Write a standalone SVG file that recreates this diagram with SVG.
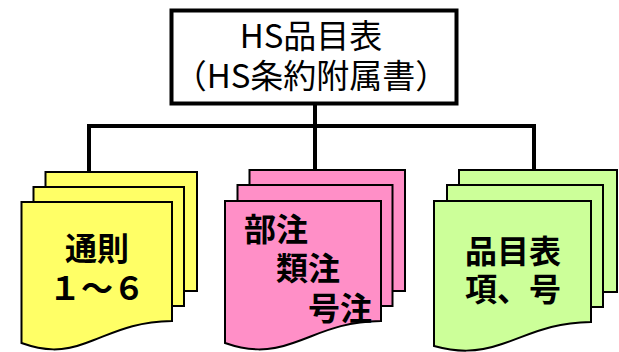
<svg xmlns="http://www.w3.org/2000/svg" width="619" height="352" viewBox="0 0 619 352">
<style>
.sheet{stroke:#000;stroke-width:2}
.y{fill:#ffff66}.p{fill:#ff8fc7}.g{fill:#ccff99}
.t{font-family:"Noto Sans CJK JP","Noto Sans",sans-serif;font-size:33px;fill:#000}
.b{font-family:"Noto Sans CJK JP","Noto Sans",sans-serif;font-size:32px;font-weight:700;fill:#000}
.c{fill:none;stroke:#000;stroke-width:4}
</style>
<rect width="619" height="352" fill="#fff"/>
<g id="connectors">
<path class="c" d="M315 104V171M89 172V126H534V172"/>
</g>
<g id="root">
<rect x="171.500" y="10.500" width="285" height="93" fill="#fff" stroke="#000" stroke-width="4"/>
<text class="t" text-anchor="middle"><tspan x="311" y="48">HS品目表</tspan><tspan x="311" y="88">（HS条約附属書）</tspan></text>
</g>
<g id="yellow">
<rect class="sheet y" x="45.500" y="172" width="151.500" height="119"/>
<rect class="sheet y" x="33.500" y="187" width="150.500" height="119"/>
<path class="sheet y" d="M21.500 202H172V321C130 322 112 334 86 343C62 352 44 351 21.500 343Z"/>
<text class="b" text-anchor="middle"><tspan x="97" y="260">通則</tspan><tspan x="97" y="300">１～６</tspan></text>
</g>
<g id="pink">
<rect class="sheet p" x="249.500" y="170" width="155.500" height="121"/>
<rect class="sheet p" x="237.500" y="185" width="155" height="121"/>
<path class="sheet p" d="M225 201H381V321C338 322 320 334 293 343C268 352 248 351 225 343Z"/>
<text class="b" x="244" y="241">部注</text>
<text class="b" x="276" y="280">類注</text>
<text class="b" x="308" y="320">号注</text>
</g>
<g id="green">
<rect class="sheet g" x="459" y="170" width="158" height="122"/>
<rect class="sheet g" x="447" y="185" width="156" height="122"/>
<path class="sheet g" d="M434 201H591V322C548 323 530 335 502 344C476 353 456 352 434 346Z"/>
<text class="b" text-anchor="middle"><tspan x="513" y="263">品目表</tspan><tspan x="513" y="301">項、号</tspan></text>
</g>
</svg>
